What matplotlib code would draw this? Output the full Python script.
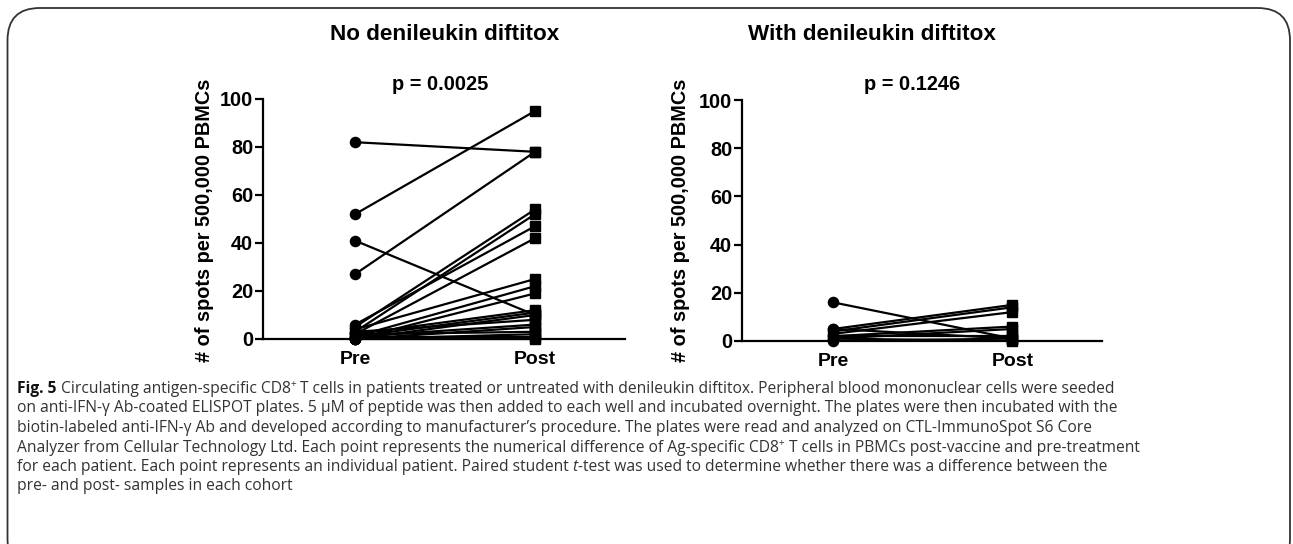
import matplotlib
matplotlib.use("Agg")
import matplotlib.pyplot as plt
from matplotlib.patches import FancyBboxPatch

# ---------------- data ----------------
categories = ["Pre", "Post"]
left_title = "No denileukin diftitox"
right_title = "With denileukin diftitox"
left_p = "p = 0.0025"
right_p = "p = 0.1246"
ylabel = "# of spots per 500,000 PBMCs"
yticks = [0, 20, 40, 60, 80, 100]

no_dd_pre = [82, 52, 41, 27, 5, 3, 6, 2, 4, 1, 0, 2, 1, 0, 3, 1, 0, 2, 0, 1, 0]
no_dd_post = [78, 95, 10, 78, 54, 52, 47, 42, 25, 22, 19, 12, 11, 10, 8, 6, 5, 3, 2, 1, 0]

with_dd_pre = [16, 5, 4, 3, 2, 1, 2, 0, 1, 5]
with_dd_post = [1, 15, 14, 12, 6, 5, 2, 1, 0, 1]

caption_lines = [
    [("Fig. 5", "b"), (" Circulating antigen-specific CD8", "n"), ("+", "s"),
     (" T cells in patients treated or untreated with denileukin diftitox. Peripheral blood mononuclear cells were seeded", "n")],
    [("on anti-IFN-\u03b3 Ab-coated ELISPOT plates. 5 \u03bcM of peptide was then added to each well and incubated overnight. The plates were then incubated with the", "n")],
    [("biotin-labeled anti-IFN-\u03b3 Ab and developed according to manufacturer\u2019s procedure. The plates were read and analyzed on CTL-ImmunoSpot S6 Core", "n")],
    [("Analyzer from Cellular Technology Ltd. Each point represents the numerical difference of Ag-specific CD8", "n"), ("+", "s"),
     (" T cells in PBMCs post-vaccine and pre-treatment", "n")],
    [("for each patient. Each point represents an individual patient. Paired student ", "n"), ("t", "i"),
     ("-test was used to determine whether there was a difference between the", "n")],
    [("pre- and post- samples in each cohort", "n")],
]

# ---------------- figure ----------------
W, H = 1293, 544
fig = plt.figure(figsize=(W / 100, H / 100), dpi=100)
fig.patch.set_facecolor("white")

AX_FONT = "Liberation Sans"


def px_rect(x0, x1, y_top, y_bot):
    return [x0 / W, 1 - y_bot / H, (x1 - x0) / W, (y_bot - y_top) / H]


def make_panel(rect, pre, post, title, ptxt, title_y, p_y, label_x):
    ax = fig.add_axes(rect)
    xs = [0, 1]
    for a, b in zip(pre, post):
        ax.plot(xs, [a, b], color="black", lw=1.6, zorder=2, clip_on=False)
    ax.plot([0] * len(pre), pre, "o", color="black", ms=7.3, zorder=3, clip_on=False)
    ax.plot([1] * len(post), post, "s", color="black", ms=7.3, zorder=3, clip_on=False)
    ax.set_xlim(-92 / 180, 1 + 90 / 180)
    ax.set_ylim(0, 100)
    ax.set_yticks(yticks)
    ax.set_xticks([0, 1])
    ax.set_xticklabels(categories)
    for s in ["top", "right"]:
        ax.spines[s].set_visible(False)
    for s in ["left", "bottom"]:
        ax.spines[s].set_linewidth(1.6)
    ax.tick_params(axis="y", length=6, width=1.6, pad=1, labelsize=14.3)
    ax.tick_params(axis="x", length=4, width=1.6, pad=5, labelsize=14)
    for lab in ax.get_xticklabels() + ax.get_yticklabels():
        lab.set_fontweight("bold")
        lab.set_family(AX_FONT)
    fig.text(label_x, 1 - 220 / H, ylabel, rotation=90, ha="center", va="center",
             fontsize=14.3, fontweight="bold", family=AX_FONT)
    fig.text(title[1], 1 - title_y / H, title[0], ha="center", va="center",
             fontsize=16.2, fontweight="bold", family=AX_FONT)
    fig.text(ptxt[1], 1 - p_y / H, ptxt[0], ha="center", va="center",
             fontsize=14.4, fontweight="bold", family=AX_FONT)
    return ax


make_panel(px_rect(263, 625, 99, 339), no_dd_pre, no_dd_post,
           (left_title, 445 / W), (left_p, 440 / W), 35, 84, 205 / W)
make_panel(px_rect(742, 1102, 100, 341), with_dd_pre, with_dd_post,
           (right_title, 872 / W), (right_p, 912 / W), 35, 85, 681 / W)

# ---------------- frame ----------------
frame = FancyBboxPatch((7.5 / W, -0.05), (1290 - 7.5) / W, 1 - 8 / H + 0.05,
                       boxstyle="round,pad=0,rounding_size=0.025",
                       transform=fig.transFigure, fill=False,
                       edgecolor="#333333", lw=1.3, mutation_aspect=W / H)
fig.patches.append(frame)

# ---------------- caption ----------------
CAP_FONT = "Open Sans"
fig.canvas.draw()
renderer = fig.canvas.get_renderer()


def draw_line(runs, yy, size, x_start=17, measure_only=False):
    x = x_start
    made = []
    for txt, st in runs:
        kw = dict(family=CAP_FONT, color="#333333", va="center", ha="left")
        yoff = 0
        if st == "b":
            kw.update(fontsize=size, fontweight="bold", color="#111111")
        elif st == "i":
            kw.update(fontsize=size, style="italic")
        elif st == "s":
            kw.update(fontsize=size * 0.65)
            yoff = -4
        else:
            kw.update(fontsize=size)
        t = fig.text(x / W, 1 - (yy + yoff) / H, txt, **kw)
        bb = t.get_window_extent(renderer=renderer)
        x += bb.width
        made.append(t)
    if measure_only:
        for t in made:
            t.remove()
    return x - x_start


line_y = [389, 408.5, 428, 447.5, 467, 486.5]
line_end = [1137, 1112, 1068, 1142, 1113]
base = 10.0
sizes = []
for runs, end in zip(caption_lines[:5], line_end):
    w0 = draw_line(runs, 0, base, measure_only=True)
    sizes.append(base * (end - 17) / w0)
cap_size = sum(sizes) / len(sizes)

for runs, yy in zip(caption_lines, line_y):
    draw_line(runs, yy, cap_size)

fig.savefig("out.png", dpi=100, facecolor="white")
